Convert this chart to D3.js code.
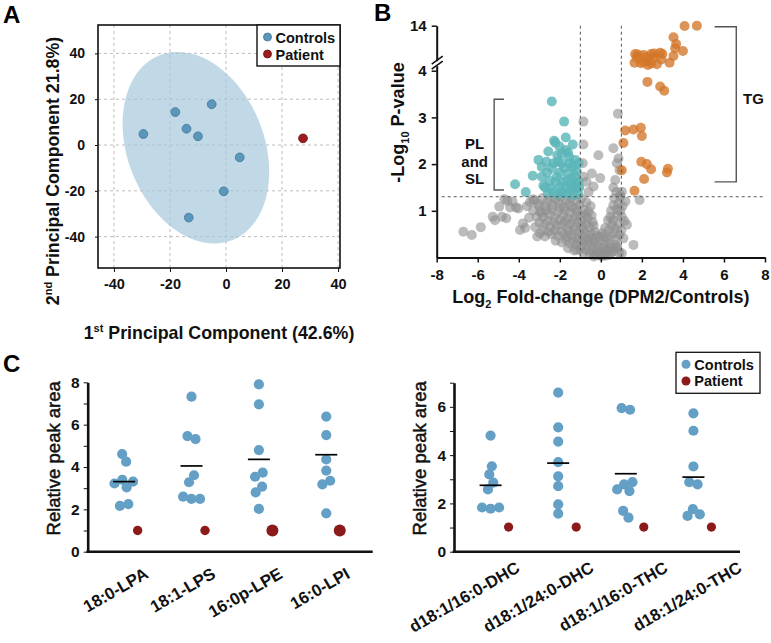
<!DOCTYPE html>
<html><head><meta charset="utf-8">
<script src="https://cdn.jsdelivr.net/npm/d3@7"></script>
<style>body{margin:0;background:#fff} svg{display:block} text{font-family:"Liberation Sans",Arial,sans-serif}</style>
</head><body><svg id="c" width="771" height="643"></svg>
<script>
// ================= DATA =================
// Panel A: PCA
const pcaTicks = [-40, -20, 0, 20, 40];
const pcaControlsPC1 = [-29.5, -18.1, -14.1, -10.0, -5.1, 4.9, -0.8, -13.3];
const pcaControlsPC2 = [4.8, 14.4, 7.1, 3.8, 17.8, -5.4, -20.2, -31.7];
const pcaPatientPC1 = [27.5];
const pcaPatientPC2 = [2.9];
const pcaChi2_95 = 5.991;
const legendLabels = ["Controls", "Patient"];

// Panel B: volcano  [log2 fold-change, -log10 p]
const volcanoXTicks = [-8, -6, -4, -2, 0, 2, 4, 6, 8];
const volcanoYTicks = [1, 2, 3, 4, 14];
const fcCutoffs = [-1, 1];
const pCutoff = 1.301;
const volcanoGray = [
 [-6.7,0.55],[-6.29,0.48],[-5.85,0.65],[-5.27,0.87],[-5.16,0.80],[-4.95,1.09],[-4.56,1.21],[-4.42,1.07],[-4.13,1.07],[-4.02,1.05],
 [-4.82,0.87],[-4.61,0.84],[-3.94,0.59],[-3.69,0.63],[-3.8,0.73],[-3.45,1.19],[-3.12,0.87],[-2.96,0.52],[-2.72,0.45],[-2.8,0.59],
 [-1.17,0.16],[-4.7,1.25],[-4.3,1.2],[-3.6,1.1],[-3.3,1.0],[-3.5,0.85],[-3.2,0.65],[-3.0,0.75],[-3.0,1.1],[-2.9,0.95],[-3.3,1.25],[-3.1,0.45],
 [-3.25,1.22],[-3.05,1.15],[-2.85,1.27],[-2.7,1.1],[-2.6,1.2],[-2.45,1.28],[-2.35,1.12],[-2.2,1.24],[-2.05,1.17],[-1.95,1.29],[-1.8,1.08],
 [-1.7,1.22],[-1.55,1.15],[-1.45,1.27],[-1.3,1.05],[-1.2,1.2],[-1.05,1.12],[-0.95,1.26],[-0.85,1.02],[-0.7,1.18],[-0.6,0.98],[-0.5,1.1],
 [-2.95,0.98],[-2.8,0.88],[-2.65,1.0],[-2.5,0.92],[-2.4,1.04],[-2.25,0.86],[-2.1,0.97],[-2.0,1.06],[-1.85,0.9],[-1.75,1.0],[-1.6,0.84],
 [-1.5,0.96],[-1.4,1.08],[-1.25,0.88],[-1.15,0.98],[-1.0,0.9],[-0.9,0.8],[-0.75,0.92],[-0.65,0.84],[-0.45,0.9],[-0.4,0.76],
 [-2.75,0.72],[-2.6,0.78],[-2.45,0.66],[-2.3,0.76],[-2.15,0.68],[-2.0,0.8],[-1.9,0.7],[-1.75,0.77],[-1.65,0.64],[-1.5,0.72],[-1.35,0.8],
 [-1.25,0.66],[-1.1,0.75],[-0.95,0.68],[-0.85,0.6],[-0.7,0.72],[-0.55,0.64],[-0.35,0.68],[-0.3,0.55],
 [-2.55,0.55],[-2.4,0.5],[-2.25,0.58],[-2.1,0.46],[-1.95,0.56],[-1.8,0.5],[-1.65,0.44],[-1.55,0.56],[-1.4,0.48],[-1.3,0.58],[-1.15,0.42],
 [-1.05,0.54],[-0.9,0.46],[-0.75,0.52],[-0.65,0.4],[-0.5,0.5],[-0.4,0.42],[-0.2,0.46],
 [-2.2,0.36],[-1.9,0.32],[-1.7,0.38],[-1.5,0.3],[-1.35,0.36],[-1.2,0.28],[-1.05,0.34],[-0.9,0.25],[-0.8,0.36],[-0.65,0.28],[-0.55,0.34],
 [-0.4,0.22],[-0.3,0.32],[-0.15,0.26],[-0.05,0.35],
 [-1.6,0.2],[-1.3,0.15],[-1.0,0.18],[-0.85,0.1],[-0.7,0.16],[-0.55,0.08],[-0.45,0.14],[-0.3,0.06],[-0.2,0.15],[-0.1,0.05],[0.0,0.12],
 [0.05,0.03],[0.15,0.09],[-0.35,0.02],[0.25,0.04],[0.35,0.12],[0.45,0.06],
 [0.1,0.2],[0.2,0.28],[0.3,0.18],[0.4,0.3],[0.5,0.22],[0.6,0.14],[0.7,0.28],[0.8,0.2],[0.9,0.1],[1.02,0.09],[0.54,0.12],[0.78,0.23],
 [0.3,0.4],[0.45,0.45],[0.61,0.52],[0.75,0.4],[0.9,0.48],[1.1,0.41],[0.21,0.63],[0.4,0.6],[0.55,0.7],[0.7,0.62],[0.85,0.7],[1.0,0.58],
 [1.27,0.70],[1.15,0.78],[0.46,0.87],[0.6,0.8],[0.8,0.9],[1.02,0.87],[0.95,1.0],[0.78,1.02],[0.61,1.12],[0.85,1.15],[1.05,1.1],
 [0.65,1.27],[0.94,1.30],[0.5,1.0],[0.35,0.8],[0.15,0.45],[0.05,0.52],[-0.03,0.45],[1.2,1.2],[1.59,0.27],
 [-0.85,2.91],[-0.85,2.42],[-0.12,2.19],[-0.44,1.8],[-0.03,1.7],[-0.88,2.02],[0.61,2.34],[0.83,3.08],[0.86,2.12],[0.78,2.02],
 [0.7,1.66],[-0.7,1.62],[0.61,1.5],[0.75,1.40],[1.89,1.23],[0.91,1.87],[1.02,1.41],[0.94,1.34],[-0.36,1.52],[-0.6,1.4],[-0.85,1.73]
];
const volcanoPLSL = [
 [-2.39,3.34],[-1.79,2.91],[-1.71,2.57],[-2.28,2.50],[-2.22,2.46],[-1.37,2.42],[-2.56,2.27],[-3.04,2.09],[-2.12,2.19],[-1.9,2.02],
 [-1.55,2.15],[-2.88,1.94],[-2.39,1.91],[-3.32,1.75],[-2.88,1.73],[-4.18,1.57],[-3.66,1.40],[-2.8,1.54],[-2.59,1.37],[-2.15,1.73],
 [-1.66,1.66],[-1.41,1.94],[-1.17,1.84],[-1.99,1.52],[-1.5,1.45],[-1.17,1.48],[-2.31,1.41],[-1.82,1.37],[-1.34,1.34],[-1.09,1.62],
 [-1.25,2.09],[-2.0,1.82],[-1.8,1.92],[-1.6,1.8],[-1.42,1.7],[-1.22,1.6],[-2.2,1.62],[-2.5,1.64],[-2.62,1.82],[-1.93,1.42],[-1.62,1.36],
 [-1.3,1.52],[-1.1,1.36],[-2.3,2.02],[-1.72,2.3],[-2.02,2.38],[-1.52,2.02],[-1.32,1.96],[-2.72,1.5],[-1.08,2.02],[-2.1,1.35],[-1.85,1.62],
 [-1.45,1.55],[-2.45,1.48],[-1.7,1.5],[-1.25,1.75],[-1.05,1.5],[-1.9,2.22],[-1.6,2.25],[-2.1,2.05],[-2.65,2.05]
];
const volcanoTG = [
 [4.08,13.93],[4.68,14.0],[3.54,11.42],[3.67,9.93],[3.62,8.98],[4.0,8.38],[3.54,7.27],[3.35,5.78],[1.67,7.71],[2.08,7.49],[2.45,7.71],
 [2.89,8.0],[3.0,7.71],[1.64,5.78],[1.95,5.64],[2.32,6.22],[2.29,5.27],[2.73,5.42],[2.6,6.98],[2.21,6.98],[1.8,7.6],[2.6,7.8],[2.1,5.9],
 [2.45,5.6],[1.75,6.9],[2.95,6.5],[2.27,3.76],[2.89,3.66],[3.09,3.57],
 [1.19,2.72],[1.59,2.74],[1.95,2.78],[2.0,2.60],[1.1,2.45],[1.97,2.05],[2.24,2.0],[2.45,1.89],[3.27,1.90],[3.22,1.82],[1.02,1.87],
 [2.11,1.68],[1.64,1.43]
];

// Panel C: lysophospholipids and ceramides
const lysoCategories = ["18:0-LPA", "18:1-LPS", "16:0p-LPE", "16:0-LPI"];
const lysoControls = [
 [4.61, 4.25, 3.39, 3.31, 3.22, 3.04, 2.16, 2.25],
 [7.32, 5.32, 5.46, 3.61, 3.28, 2.49, 2.60, 2.49],
 [7.90, 6.96, 4.80, 3.73, 3.54, 3.07, 2.80, 2.02],
 [6.38, 5.51, 4.36, 3.83, 3.18, 3.35, 1.81]
];
const lysoMeans = [3.31, 4.05, 4.36, 4.58];
const lysoPatient = [1.0, 1.0, 1.0, 1.0];
const lysoTicks = [0, 2, 4, 6, 8];

const cerCategories = ["d18:1/16:0-DHC", "d18:1/24:0-DHC", "d18:1/16:0-THC", "d18:1/24:0-THC"];
const cerControls = [
 [4.81, 3.54, 3.20, 2.86, 2.58, 1.83, 1.83, 1.78],
 [6.59, 5.15, 4.56, 3.71, 3.12, 2.72, 1.96, 1.58],
 [5.95, 5.88, 2.79, 2.88, 2.58, 2.51, 1.69, 1.41],
 [5.73, 5.01, 3.53, 2.79, 2.88, 1.76, 1.48, 1.55]
];
const cerMeans = [2.75, 3.67, 3.23, 3.09];
const cerPatient = [1.02, 1.02, 1.02, 1.02];
const cerTicks = [0, 2, 4, 6];

// ================= DRAWING =================
const svg = d3.select("#c");
const CTRL_A = "#5b97ba", PAT_A = "#9c1c20";
const CTRL_C = "#649fc6", PAT_C = "#8c1a1b";
const fmt = d => String(d);

function panelLetter(t, x, y) {
  svg.append("text").attr("x", x).attr("y", y).attr("font-size", 24).attr("font-weight", "bold").text(t);
}
function styleAxis(g, fs) {
  g.selectAll("text").attr("font-size", fs).attr("font-weight", "bold").attr("fill", "#111")
    .attr("font-family", '"Liberation Sans", Arial, sans-serif');
  g.selectAll("line").attr("stroke", "#111");
}

// ---------- Panel A ----------
(function () {
  const L = 98, R = 340, T = 25, B = 268;
  const x = d3.scaleLinear().domain([-45.7, 40.7]).range([L, R]);
  const y = d3.scaleLinear().domain([-53.7, 52.4]).range([B, T]);
  const g = svg.append("g");
  g.selectAll(".gx").data(pcaTicks).join("line").attr("x1", d => x(d)).attr("x2", d => x(d))
    .attr("y1", T).attr("y2", B).attr("stroke", "#bdbdbd").attr("stroke-dasharray", "3,3");
  g.selectAll(".gy").data(pcaTicks).join("line").attr("y1", d => y(d)).attr("y2", d => y(d))
    .attr("x1", L).attr("x2", R).attr("stroke", "#bdbdbd").attr("stroke-dasharray", "3,3");

  // 95% confidence ellipse from the control covariance
  const mx = d3.mean(pcaControlsPC1), my = d3.mean(pcaControlsPC2);
  const n = pcaControlsPC1.length;
  let sxx = 0, syy = 0, sxy = 0;
  for (let i = 0; i < n; i++) {
    const dx = pcaControlsPC1[i] - mx, dy = pcaControlsPC2[i] - my;
    sxx += dx * dx; syy += dy * dy; sxy += dx * dy;
  }
  sxx /= n - 1; syy /= n - 1; sxy /= n - 1;
  const tr = (sxx + syy) / 2, df = Math.sqrt(((sxx - syy) / 2) ** 2 + sxy * sxy);
  const l1 = tr + df, l2 = tr - df;
  let v1 = [sxy, l1 - sxx]; const nv = Math.hypot(v1[0], v1[1]); v1 = [v1[0] / nv, v1[1] / nv];
  const v2 = [-v1[1], v1[0]];
  const k = Math.sqrt(pcaChi2_95);
  const pts = d3.range(0, 360, 3).map(a => {
    const t = a * Math.PI / 180;
    const c = k * Math.sqrt(l1) * Math.cos(t), s = k * Math.sqrt(l2) * Math.sin(t);
    return [x(mx + c * v1[0] + s * v2[0]), y(my + c * v1[1] + s * v2[1])];
  });
  g.append("path").attr("d", d3.line().curve(d3.curveCardinalClosed)(pts))
    .attr("fill", "#a3c7da").attr("fill-opacity", 0.68);

  g.selectAll(".ctrl").data(pcaControlsPC1).join("circle")
    .attr("cx", d => x(d)).attr("cy", (d, i) => y(pcaControlsPC2[i])).attr("r", 4.4)
    .attr("fill", CTRL_A).attr("stroke", "#3f7697").attr("stroke-width", 0.8);
  g.selectAll(".pat").data(pcaPatientPC1).join("circle")
    .attr("cx", d => x(d)).attr("cy", (d, i) => y(pcaPatientPC2[i])).attr("r", 4.4)
    .attr("fill", PAT_A).attr("stroke", "#6a1013").attr("stroke-width", 0.8);

  g.append("rect").attr("x", L).attr("y", T).attr("width", R - L).attr("height", B - T)
    .attr("fill", "none").attr("stroke", "#111").attr("stroke-width", 1.6);

  const ax = g.append("g").attr("transform", `translate(0,${B})`)
    .call(d3.axisBottom(x).tickValues(pcaTicks).tickFormat(fmt).tickSize(4).tickPadding(7).tickSizeOuter(0));
  ax.select(".domain").remove(); styleAxis(ax, 14.5);
  const ay = g.append("g").attr("transform", `translate(${L},0)`)
    .call(d3.axisLeft(y).tickValues(pcaTicks).tickFormat(fmt).tickSize(3).tickPadding(10).tickSizeOuter(0));
  ay.select(".domain").remove(); styleAxis(ay, 14);

  // legend
  const lg = g.append("g");
  lg.append("rect").attr("x", 257).attr("y", T).attr("width", R - 257).attr("height", 41)
    .attr("fill", "#fff").attr("stroke", "#111").attr("stroke-width", 1.4);
  const lc = [CTRL_A, PAT_A], ls = ["#3f7697", "#6a1013"];
  legendLabels.forEach((t, i) => {
    lg.append("circle").attr("cx", 267.5).attr("cy", 37 + i * 17).attr("r", 4)
      .attr("fill", lc[i]).attr("stroke", ls[i]).attr("stroke-width", 0.8);
    lg.append("text").attr("x", 275.5).attr("y", 42.5 + i * 17).attr("font-size", 14.5)
      .attr("font-weight", "bold").attr("fill", "#111").text(t);
  });

  // axis titles
  const xt = g.append("text").attr("x", (L + R) / 2).attr("y", 339).attr("text-anchor", "middle")
    .attr("font-size", 17.8).attr("font-weight", "bold").attr("fill", "#111");
  xt.append("tspan").text("1");
  xt.append("tspan").attr("font-size", 11).attr("dy", -7).text("st");
  xt.append("tspan").attr("dy", 7).text(" Principal Component (42.6%)");
  const yt = g.append("text").attr("transform", "translate(59,171) rotate(-90)").attr("text-anchor", "middle")
    .attr("font-size", 17.8).attr("font-weight", "bold").attr("fill", "#111");
  yt.append("tspan").text("2");
  yt.append("tspan").attr("font-size", 11).attr("dy", -7).text("nd");
  yt.append("tspan").attr("dy", 7).text(" Principal Component 21.8%)");
})();
panelLetter("A", 3, 23);

// ---------- Panel B ----------
(function () {
  const L = 436.7, R = 765, B = 257.5;
  const x = d3.scaleLinear().domain([-8, 8]).range([L, R]);
  const y = d3.scaleLinear().domain([0, 4, 14]).range([B, 70.7, 25.7]);
  const g = svg.append("g");

  const dot = (data, fill, op) => g.append("g").selectAll("circle").data(data).join("circle")
    .attr("cx", d => x(d[0])).attr("cy", d => y(d[1])).attr("r", 5)
    .attr("fill", fill).attr("fill-opacity", op);
  dot(volcanoGray, "#8f8f8f", 0.6);
  dot(volcanoPLSL, "#5ab5b8", 0.8);
  dot(volcanoTG, "#d37629", 0.78);

  // cutoff lines
  g.selectAll(".vc").data(fcCutoffs).join("line").attr("x1", d => x(d)).attr("x2", d => x(d))
    .attr("y1", y(14)).attr("y2", B).attr("stroke", "#555").attr("stroke-width", 1).attr("stroke-dasharray", "3,3");
  g.append("line").attr("x1", L + 5).attr("x2", R).attr("y1", y(pCutoff)).attr("y2", y(pCutoff))
    .attr("stroke", "#555").attr("stroke-width", 1).attr("stroke-dasharray", "3,3");

  const ax = g.append("g").attr("transform", `translate(0,${B})`)
    .call(d3.axisBottom(x).tickValues(volcanoXTicks).tickFormat(fmt).tickSize(5).tickPadding(7).tickSizeOuter(0));
  styleAxis(ax, 15); ax.select(".domain").attr("stroke", "#111").attr("stroke-width", 2);
  const ay = g.append("g").attr("transform", `translate(${L},0)`)
    .call(d3.axisLeft(y).tickValues(volcanoYTicks).tickFormat(fmt).tickSize(5).tickPadding(5).tickSizeOuter(0));
  styleAxis(ay, 15); ay.select(".domain").attr("stroke", "#111").attr("stroke-width", 2);
  ay.selectAll("line").attr("stroke-width", 1.5); ax.selectAll("line").attr("stroke-width", 1.5);

  // axis break
  const yb = (y(4) + y(14)) / 2 + 16;
  g.append("rect").attr("x", L - 3).attr("y", yb - 3).attr("width", 6).attr("height", 5).attr("fill", "#fff");
  [0, 5].forEach(o => g.append("line").attr("x1", L - 5).attr("y1", yb + o).attr("x2", L + 6).attr("y2", yb - 8 + o)
    .attr("stroke", "#111").attr("stroke-width", 1.6));

  // brackets
  const br = g.append("g").attr("stroke", "#555").attr("stroke-width", 1.4).attr("fill", "none");
  br.append("path").attr("d", `M${x(-4.72)},${y(3.39)}H${x(-5.2)}V${y(1.445)}H${x(-4.72)}`);
  br.append("path").attr("d", `M${x(5.54)},${y(14) + 1}H${x(6.6)}V${y(1.62)}H${x(5.54)}`);
  const tf = t => g.append("text").attr("font-size", 15).attr("font-weight", "bold").attr("fill", "#111").text(t);
  tf("PL").attr("x", x(-6.15)).attr("y", 148.5).attr("text-anchor", "middle");
  tf("and").attr("x", x(-6.15)).attr("y", 166.5).attr("text-anchor", "middle");
  tf("SL").attr("x", x(-6.15)).attr("y", 184).attr("text-anchor", "middle");
  tf("TG").attr("x", 753.5).attr("y", 104).attr("text-anchor", "middle");

  const xt = g.append("text").attr("x", x(0)).attr("y", 303).attr("text-anchor", "middle")
    .attr("font-size", 18).attr("font-weight", "bold").attr("fill", "#111");
  xt.append("tspan").text("Log");
  xt.append("tspan").attr("font-size", 11).attr("dy", 5).text("2");
  xt.append("tspan").attr("dy", -5).text(" Fold-change (DPM2/Controls)");
  const yt = g.append("text").attr("transform", "translate(404,122.5) rotate(-90)").attr("text-anchor", "middle")
    .attr("font-size", 18).attr("font-weight", "bold").attr("fill", "#111");
  yt.append("tspan").text("-Log");
  yt.append("tspan").attr("font-size", 11).attr("dy", 5).text("10");
  yt.append("tspan").attr("dy", -5).text(" P-value");
})();
panelLetter("B", 374, 21);

// ---------- Panel C ----------
function dotPanel(opts) {
  const { L, R, top, B, ymax, ticks, cats, controls, means, patient, patOffset, patR, labelStart, labelEnd, labelDy, ylabX } = opts;
  const g = svg.append("g");
  const y = d3.scaleLinear().domain([0, ymax]).range([B, top]);
  const xc = d3.scalePoint().domain(cats).range([L, R]).padding(0.615);
  const rC = 5.1;
  cats.forEach((c, ci) => {
    const cx = xc(c) - 5;
    const nodes = controls[ci].map((v, i) => ({ x: cx + (i % 2 ? 0.6 : -0.6), y: y(v), fy: y(v), v }));
    const sim = d3.forceSimulation(nodes).force("x", d3.forceX(cx).strength(0.2))
      .force("c", d3.forceCollide(4.3).iterations(3)).stop();
    for (let i = 0; i < 300; i++) sim.tick();
    g.append("g").selectAll("circle").data(nodes).join("circle")
      .attr("cx", d => d.x).attr("cy", d => d.fy).attr("r", rC).attr("fill", CTRL_C);
    g.append("line").attr("x1", cx - 11).attr("x2", cx + 11).attr("y1", y(means[ci])).attr("y2", y(means[ci]))
      .attr("stroke", "#000").attr("stroke-width", 1.7);
    g.append("circle").attr("cx", xc(c) + patOffset).attr("cy", y(patient[ci])).attr("r", patR[ci]).attr("fill", PAT_C);
  });
  const intTicks = d3.range(0, ymax + 1);
  const ay = g.append("g").attr("transform", `translate(${L},0)`)
    .call(d3.axisLeft(y).tickValues(intTicks).tickSize(4).tickPadding(4).tickSizeOuter(0)
      .tickFormat(d => ticks.includes(d) ? String(d) : ""));
  styleAxis(ay, 15.5);
  ay.select(".domain").attr("stroke", "#111").attr("stroke-width", 2.6);
  g.append("line").attr("x1", L - 1.3).attr("x2", R).attr("y1", B).attr("y2", B).attr("stroke", "#111").attr("stroke-width", 2.6);
  const xl = d3.scalePoint().domain(cats).range([labelStart, labelEnd]);
  g.selectAll(".cl").data(cats).join("text")
    .attr("transform", d => `translate(${xl(d)},${B + labelDy}) rotate(-30)`)
    .attr("text-anchor", "end").attr("dy", "0.71em").attr("font-size", 16.8).attr("font-weight", "bold")
    .attr("fill", "#111").text(d => d);
  g.append("text").attr("transform", `translate(${ylabX},458.3) rotate(-90)`).attr("text-anchor", "middle")
    .attr("font-size", 18.5).attr("fill", "#111").attr("stroke", "#111").attr("stroke-width", 0.5)
    .text("Relative peak area");
}
dotPanel({ L: 87.7, R: 372.7, top: 382.3, B: 551.7, ymax: 8, ticks: lysoTicks, cats: lysoCategories,
  controls: lysoControls, means: lysoMeans, patient: lysoPatient, patOffset: 8.5, patR: [4.7, 4.7, 6, 6],
  labelStart: 143.5, labelEnd: 345, labelDy: 15, ylabX: 60 });
dotPanel({ L: 454, R: 740, top: 382.7, B: 551.7, ymax: 7, ticks: cerTicks, cats: cerCategories,
  controls: cerControls, means: cerMeans, patient: cerPatient, patOffset: 13, patR: [4.6, 4.6, 4.6, 4.6],
  labelStart: 515, labelEnd: 737, labelDy: 9, ylabX: 425.5 });

// legend C
(function () {
  const g = svg.append("g");
  g.append("rect").attr("x", 676).attr("y", 352.3).attr("width", 84).attr("height", 41)
    .attr("fill", "#fff").attr("stroke", "#111").attr("stroke-width", 1.3);
  [CTRL_C, PAT_C].forEach((c, i) => {
    g.append("circle").attr("cx", 686).attr("cy", 364.3 + i * 16.7).attr("r", 4.5).attr("fill", c);
    g.append("text").attr("x", 694.3).attr("y", 369.6 + i * 16.7).attr("font-size", 14.5)
      .attr("font-weight", "bold").attr("fill", "#111").text(legendLabels[i]);
  });
})();
panelLetter("C", 3, 371.5);
</script></body></html>
